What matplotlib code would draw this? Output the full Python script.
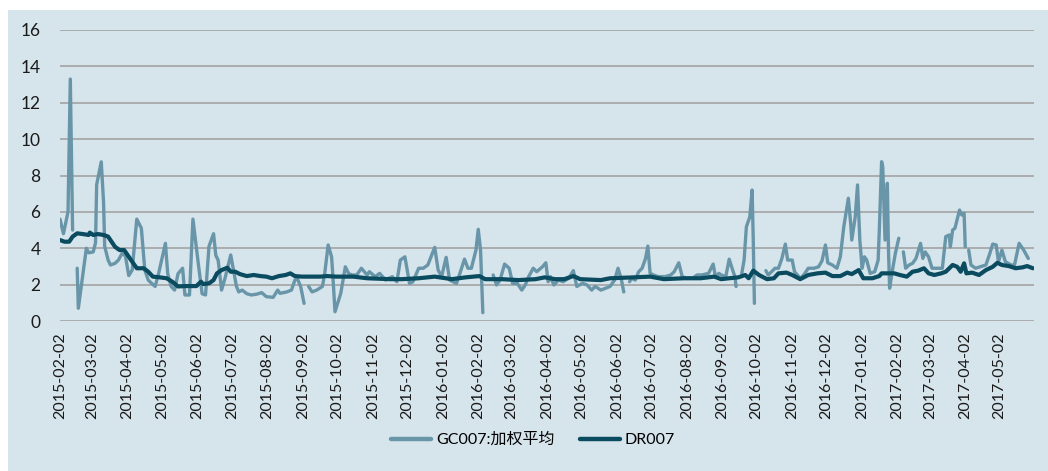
import numpy as np
import pandas as pd
import matplotlib
matplotlib.use("Agg")
import matplotlib.pyplot as plt
import matplotlib.dates as mdates
from matplotlib.patches import Rectangle

plt.rcParams['font.family'] = ['Lato', 'Noto Sans CJK SC', 'DejaVu Sans']

# GC007 weighted average (None = no trading / gap)
gc_dates = [
    "2015-02-02", "2015-02-05", "2015-02-09", "2015-02-11", "2015-02-13", "2015-02-15",
    "2015-02-17", "2015-02-18", "2015-02-25", "2015-02-27", "2015-03-03", "2015-03-05",
    "2015-03-06", "2015-03-10", "2015-03-12", "2015-03-13", "2015-03-16", "2015-03-18",
    "2015-03-22", "2015-03-25", "2015-03-28", "2015-03-31", "2015-04-03", "2015-04-06",
    "2015-04-10", "2015-04-14", "2015-04-17", "2015-04-20", "2015-04-23", "2015-04-26",
    "2015-04-29", "2015-05-05", "2015-05-07", "2015-05-10", "2015-05-13", "2015-05-16",
    "2015-05-20", "2015-05-22", "2015-05-26", "2015-05-29", "2015-06-03", "2015-06-06",
    "2015-06-09", "2015-06-12", "2015-06-16", "2015-06-18", "2015-06-20", "2015-06-23",
    "2015-06-26", "2015-07-01", "2015-07-04", "2015-07-06", "2015-07-08", "2015-07-11",
    "2015-07-15", "2015-07-19", "2015-07-24", "2015-07-28", "2015-08-01", "2015-08-07",
    "2015-08-11", "2015-08-13", "2015-08-19", "2015-08-23", "2015-08-26", "2015-08-28",
    "2015-08-31", "2015-09-03", "2015-09-05", "2015-09-07", "2015-09-10", "2015-09-14",
    "2015-09-19", "2015-09-21", "2015-09-24", "2015-09-27", "2015-09-28", "2015-09-30",
    "2015-10-05", "2015-10-09", "2015-10-12", "2015-10-15", "2015-10-19", "2015-10-23",
    "2015-10-28", "2015-10-30", "2015-11-04", "2015-11-08", "2015-11-13", "2015-11-19",
    "2015-11-23", "2015-11-26", "2015-11-30", "2015-12-04", "2015-12-07", "2015-12-12",
    "2015-12-16", "2015-12-20", "2015-12-26", "2015-12-29", "2016-01-01", "2016-01-05",
    "2016-01-08", "2016-01-11", "2016-01-14", "2016-01-17", "2016-01-21", "2016-01-24",
    "2016-01-27", "2016-01-31", "2016-02-02", "2016-02-04", "2016-02-06", "2016-02-08",
    "2016-02-15", "2016-02-18", "2016-02-21", "2016-02-25", "2016-02-29", "2016-03-03",
    "2016-03-07", "2016-03-11", "2016-03-14", "2016-03-17", "2016-03-21", "2016-03-24",
    "2016-03-29", "2016-04-01", "2016-04-03", "2016-04-05", "2016-04-08", "2016-04-12",
    "2016-04-16", "2016-04-21", "2016-04-25", "2016-04-28", "2016-05-03", "2016-05-07",
    "2016-05-11", "2016-05-14", "2016-05-19", "2016-05-23", "2016-05-27", "2016-05-31",
    "2016-06-03", "2016-06-06", "2016-06-08", "2016-06-10", "2016-06-13", "2016-06-15",
    "2016-06-18", "2016-06-21", "2016-06-24", "2016-06-27", "2016-06-29", "2016-07-01",
    "2016-07-04", "2016-07-08", "2016-07-14", "2016-07-19", "2016-07-22", "2016-07-26",
    "2016-07-29", "2016-08-02", "2016-08-07", "2016-08-11", "2016-08-15", "2016-08-21",
    "2016-08-25", "2016-08-27", "2016-08-30", "2016-09-01", "2016-09-05", "2016-09-08",
    "2016-09-11", "2016-09-13", "2016-09-14", "2016-09-16", "2016-09-19", "2016-09-21",
    "2016-09-23", "2016-09-26", "2016-09-28", "2016-09-29", "2016-09-30", "2016-10-03",
    "2016-10-10", "2016-10-12", "2016-10-15", "2016-10-18", "2016-10-21", "2016-10-24",
    "2016-10-27", "2016-10-29", "2016-11-02", "2016-11-04", "2016-11-09", "2016-11-12",
    "2016-11-16", "2016-11-21", "2016-11-25", "2016-11-28", "2016-12-01", "2016-12-03",
    "2016-12-07", "2016-12-11", "2016-12-14", "2016-12-17", "2016-12-21", "2016-12-23",
    "2016-12-24", "2016-12-27", "2016-12-29", "2016-12-31", "2017-01-02", "2017-01-04",
    "2017-01-06", "2017-01-09", "2017-01-13", "2017-01-16", "2017-01-17", "2017-01-19",
    "2017-01-20", "2017-01-22", "2017-01-24", "2017-01-25", "2017-01-26", "2017-01-28",
    "2017-01-31", "2017-02-03", "2017-02-05", "2017-02-07", "2017-02-09", "2017-02-12",
    "2017-02-15", "2017-02-18", "2017-02-22", "2017-02-24", "2017-02-26", "2017-03-01",
    "2017-03-04", "2017-03-09", "2017-03-13", "2017-03-16", "2017-03-19", "2017-03-20",
    "2017-03-22", "2017-03-24", "2017-03-28", "2017-03-30", "2017-04-01", "2017-04-02",
    "2017-04-04", "2017-04-05", "2017-04-07", "2017-04-11", "2017-04-15", "2017-04-20",
    "2017-04-23", "2017-04-26", "2017-04-29", "2017-05-01", "2017-05-04", "2017-05-07",
    "2017-05-12", "2017-05-15", "2017-05-19", "2017-05-23", "2017-05-27",
]
gc_values = [
    5.6, 4.8, 6.0, 13.3, 5.0, None,
    2.9, 0.7, 4.0, 3.75, 3.8, 4.3,
    7.5, 8.75, 6.55, 4.1, 3.35, 3.08,
    3.17, 3.35, 3.7, 3.6, 2.5, 2.8,
    5.6, 5.1, 2.8, 2.25, 2.07, 1.9,
    2.6, 4.27, 2.6, 1.9, 1.7, 2.6,
    2.9, 1.43, 1.43, 5.6, 3.0, 1.5,
    1.43, 4.1, 4.8, 3.6, 3.35, 1.7,
    2.35, 3.63, 2.6, 1.9, 1.6, 1.7,
    1.5, 1.43, 1.48, 1.56, 1.34, 1.3,
    1.7, 1.52, 1.6, 1.7, 2.25, 2.35,
    1.9, 0.97, None, 1.9, 1.6, 1.7,
    1.9, 2.6, 4.18, 3.53, 2.6, 0.51,
    1.52, 2.98, 2.6, 2.53, 2.53, 2.9,
    2.53, 2.71, 2.44, 2.62, 2.25, 2.44,
    2.16, 3.35, 3.53, 2.07, 2.16, 2.9,
    2.9, 3.08, 4.05, 2.8, 2.44, 3.5,
    2.25, 2.16, 2.07, 2.62, 3.4, 2.9,
    2.9, 3.9, 5.04, 3.9, 0.46, None,
    2.53, 1.98, 2.25, 3.13, 2.9, 2.07,
    2.07, 1.7, 1.98, 2.44, 2.9, 2.71,
    2.98, 3.2, 2.16, 2.44, 1.98, 2.25,
    2.16, 2.35, 2.77, 1.9, 2.07, 1.98,
    1.7, 1.9, 1.7, 1.8, 1.9, 2.25,
    2.9, 2.25, 1.6, None, 2.16, 2.35,
    2.25, 2.71, 2.9, 3.44, 4.12, 2.62,
    2.53, 2.44, 2.44, 2.53, 2.71, 3.2,
    2.44, 2.35, 2.35, 2.53, 2.53, 2.62,
    3.13, 2.44, 2.62, 2.53, 2.44, 3.4,
    2.8, 2.44, 1.9, None, 2.62, 3.35,
    5.18, 5.73, 7.2, 4.45, 0.97, None,
    2.77, 2.53, 2.71, 2.9, 2.9, 3.44,
    4.23, 3.35, 3.35, 2.71, 2.35, 2.53,
    2.9, 2.9, 2.98, 3.31, 4.18, 3.2,
    3.08, 2.9, 3.53, 5.18, 6.75, 5.37,
    4.45, 5.73, 7.48, 4.45, 2.9, 3.53,
    3.35, 2.62, 2.71, 3.35, 5.0, 8.76,
    8.48, 4.45, 7.57, 3.9, 1.8, 2.62,
    3.72, 4.55, None, 3.8, 2.9, 3.08,
    3.17, 3.44, 4.27, 3.44, 3.8, 3.53,
    2.9, 2.9, 2.9, 4.64, 4.73, 4.08,
    5.0, 5.1, 6.1, 5.83, 5.92, 4.08,
    None, 3.9, 3.08, 2.9, 2.98, 3.08,
    3.63, 4.23, 4.18, 3.26, 3.9, 3.26,
    3.08, 3.08, 4.27, 3.9, 3.44,
]

# DR007
dr_dates = [
    "2015-02-02", "2015-02-06", "2015-02-10", "2015-02-13", "2015-02-17", "2015-02-22",
    "2015-02-27", "2015-02-28", "2015-03-03", "2015-03-07", "2015-03-12", "2015-03-16",
    "2015-03-19", "2015-03-22", "2015-03-26", "2015-03-30", "2015-04-03", "2015-04-06",
    "2015-04-10", "2015-04-16", "2015-04-20", "2015-04-24", "2015-04-30", "2015-05-06",
    "2015-05-11", "2015-05-16", "2015-05-22", "2015-05-28", "2015-06-01", "2015-06-05",
    "2015-06-07", "2015-06-12", "2015-06-16", "2015-06-19", "2015-06-23", "2015-06-28",
    "2015-07-01", "2015-07-05", "2015-07-09", "2015-07-15", "2015-07-21", "2015-07-27",
    "2015-08-01", "2015-08-06", "2015-08-12", "2015-08-18", "2015-08-22", "2015-08-26",
    "2015-09-01", "2015-09-17", "2015-09-23", "2015-10-01", "2015-10-16", "2015-10-28",
    "2015-11-17", "2015-11-27", "2015-12-12", "2015-12-26", "2016-01-10", "2016-01-22",
    "2016-02-03", "2016-02-08", "2016-02-23", "2016-03-08", "2016-03-23", "2016-03-31",
    "2016-04-09", "2016-04-17", "2016-04-25", "2016-05-01", "2016-05-19", "2016-05-27",
    "2016-06-17", "2016-07-01", "2016-07-13", "2016-07-30", "2016-08-14", "2016-08-26",
    "2016-09-01", "2016-09-08", "2016-09-16", "2016-09-22", "2016-09-25", "2016-09-29",
    "2016-10-04", "2016-10-11", "2016-10-17", "2016-10-21", "2016-10-28", "2016-11-02",
    "2016-11-09", "2016-11-16", "2016-11-24", "2016-12-01", "2016-12-07", "2016-12-14",
    "2016-12-20", "2016-12-24", "2016-12-30", "2017-01-03", "2017-01-11", "2017-01-17",
    "2017-01-19", "2017-01-24", "2017-01-30", "2017-02-04", "2017-02-10", "2017-02-15",
    "2017-02-20", "2017-02-25", "2017-03-01", "2017-03-06", "2017-03-12", "2017-03-16",
    "2017-03-22", "2017-03-26", "2017-03-29", "2017-04-01", "2017-04-03", "2017-04-08",
    "2017-04-14", "2017-04-20", "2017-04-26", "2017-04-30", "2017-05-04", "2017-05-10",
    "2017-05-16", "2017-05-22", "2017-05-26", "2017-05-31",
]
dr_values = [
    4.45, 4.36, 4.36, 4.64, 4.82, 4.78,
    4.73, 4.86, 4.73, 4.78, 4.73, 4.64,
    4.36, 4.08, 3.9, 3.9, 3.53, 3.26,
    2.9, 2.9, 2.71, 2.44, 2.4, 2.35,
    2.16, 1.9, 1.92, 1.92, 1.92, 2.16,
    2.03, 2.07, 2.25, 2.62, 2.8, 2.93,
    2.71, 2.71, 2.58, 2.47, 2.53, 2.47,
    2.44, 2.35, 2.47, 2.53, 2.62, 2.47,
    2.44, 2.44, 2.47, 2.44, 2.44, 2.35,
    2.3, 2.3, 2.35, 2.44, 2.3, 2.4,
    2.47, 2.3, 2.3, 2.25, 2.3, 2.4,
    2.3, 2.3, 2.47, 2.3, 2.25, 2.35,
    2.4, 2.44, 2.3, 2.35, 2.35, 2.44,
    2.3, 2.35, 2.4, 2.53, 2.35, 2.77,
    2.53, 2.3, 2.35, 2.62, 2.66, 2.53,
    2.3, 2.53, 2.62, 2.66, 2.47, 2.47,
    2.66, 2.58, 2.8, 2.35, 2.35, 2.47,
    2.62, 2.62, 2.62, 2.53, 2.44, 2.71,
    2.77, 2.9, 2.62, 2.53, 2.62, 2.71,
    3.08, 2.98, 2.71, 3.17, 2.62, 2.66,
    2.53, 2.8, 2.98, 3.2, 3.08, 3.02,
    2.9, 2.95, 3.02, 2.9,
]

y_ticks = [0, 2, 4, 6, 8, 10, 12, 14, 16]
gc_label = "GC007:加权平均"
dr_label = "DR007"

bg = "#d6e4ec"
gc_color = "#6896a8"
dr_color = "#0a4b5f"

gc_x = pd.to_datetime(gc_dates)
gc_y = np.array([np.nan if v is None else v for v in gc_values], dtype=float)
dr_x = pd.to_datetime(dr_dates)
dr_y = np.array(dr_values, dtype=float)

fig = plt.figure(figsize=(10.48, 4.71), dpi=100, facecolor="white")
fig.patches.append(Rectangle((8 / 1048, 0), 1 - 8 / 1048, 1 - 10 / 471,
                             transform=fig.transFigure, facecolor=bg,
                             edgecolor="none", zorder=-10))

ax = fig.add_axes([60 / 1048, 1 - 321 / 471, (1034 - 60) / 1048, (321 - 30) / 471])
ax.set_facecolor("none")

ax.plot(gc_x, gc_y, color=gc_color, lw=2.4, solid_joinstyle="round",
        solid_capstyle="round", label=gc_label, zorder=3)
ax.plot(dr_x, dr_y, color=dr_color, lw=3.0, solid_joinstyle="round",
        solid_capstyle="round", label=dr_label, zorder=4)

ax.set_ylim(0, 16)
ax.set_yticks(y_ticks)
ax.set_xlim(pd.Timestamp("2015-02-02"), pd.Timestamp("2017-06-01"))
ax.xaxis.set_major_locator(mdates.MonthLocator(bymonthday=2))
ax.xaxis.set_major_formatter(mdates.DateFormatter("%Y-%m-%d"))

ax.yaxis.grid(True, color="#a8a8a8", lw=1.3)
ax.set_axisbelow(True)
for s in ax.spines.values():
    s.set_visible(False)
ax.tick_params(axis="y", length=0, pad=14, labelsize=12.5, labelcolor="#1a1a1a")
ax.tick_params(axis="x", length=0, pad=8, labelsize=11.5, labelcolor="#1a1a1a",
               labelrotation=90)
for lab in ax.get_yticklabels():
    lab.set_horizontalalignment("right")

leg = fig.legend(loc="center", bbox_to_anchor=(533 / 1048, 1 - 440 / 471), ncol=2,
                 frameon=False, fontsize=11.5, handlelength=2.5, handletextpad=0.3,
                 columnspacing=1.6)
for line in leg.get_lines():
    line.set_linewidth(3.2)

fig.savefig("out.png", dpi=100, facecolor="white")
